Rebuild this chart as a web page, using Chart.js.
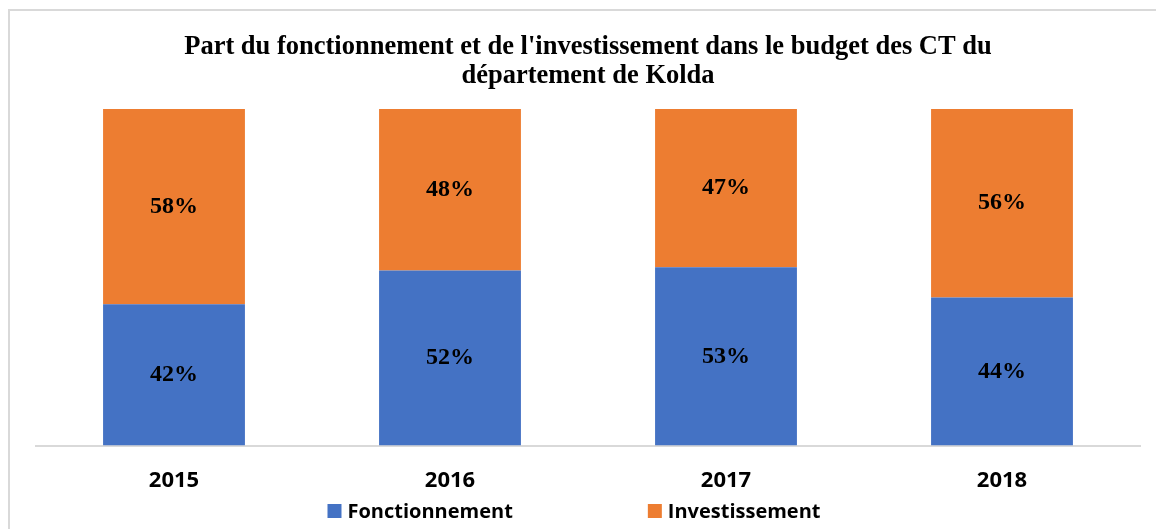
<!DOCTYPE html>
<html>
<head>
<meta charset="utf-8">
<script src="https://cdn.jsdelivr.net/npm/chart.js@4"></script>
<style>
  html, body { margin: 0; padding: 0; background: #fff; overflow: hidden; }
  #wrap { position: relative; width: 1156px; height: 529px; }
  #frame { position: absolute; left: 8px; top: 9px; width: 1200px; height: 600px;
           border: 2px solid #d9d9d9; box-sizing: border-box; pointer-events: none; }
  canvas { display: block; }
</style>
</head>
<body>
<div id="wrap">
  <canvas id="chart" width="1156" height="529"></canvas>
  <div id="frame"></div>
</div>
<script>
const years = ["2015", "2016", "2017", "2018"];
const fonctionnement = [42, 52, 53, 44];
const investissement = [58, 48, 47, 56];
const titleLines = [
  "Part du fonctionnement et de l'investissement dans le budget des CT du",
  "département de Kolda"
];

const BLUE = "#4472C4";
const ORANGE = "#ED7D31";

// labels au centre de chaque segment
const segmentLabels = {
  id: "segmentLabels",
  afterDatasetsDraw(chart) {
    const ctx = chart.ctx;
    ctx.save();
    ctx.font = "bold 24px 'Liberation Serif', 'Times New Roman', serif";
    ctx.fillStyle = "#000";
    ctx.textAlign = "center";
    ctx.textBaseline = "middle";
    chart.data.datasets.forEach((ds, i) => {
      const meta = chart.getDatasetMeta(i);
      meta.data.forEach((bar, j) => {
        const y = (bar.y + bar.base) / 2;
        ctx.fillText(ds.data[j] + "%", bar.x, y);
      });
    });
    ctx.restore();
  }
};

// légende en bas, items bien espacés comme dans Excel
const bottomLegend = {
  id: "bottomLegend",
  afterDraw(chart) {
    const ctx = chart.ctx;
    const box = 14, gapText = 6, gapItem = 135;
    ctx.save();
    ctx.font = "bold 20px 'Open Sans', sans-serif";
    ctx.textBaseline = "middle";
    ctx.textAlign = "left";
    const items = chart.data.datasets.map(ds => ({
      text: ds.label, color: ds.backgroundColor, w: ctx.measureText(ds.label).width
    }));
    let total = 0;
    items.forEach((it, i) => { total += box + gapText + it.w + (i ? gapItem : 0); });
    let x = chart.width / 2 - 4 - total / 2;
    const y = 511;
    items.forEach(it => {
      ctx.fillStyle = it.color;
      ctx.fillRect(x, y - box / 2, box, box);
      ctx.fillStyle = "#000";
      ctx.fillText(it.text, x + box + gapText, y + 1);
      x += box + gapText + it.w + gapItem;
    });
    ctx.restore();
  }
};

new Chart(document.getElementById("chart"), {
  type: "bar",
  data: {
    labels: years,
    datasets: [
      { label: "Fonctionnement", data: fonctionnement, backgroundColor: BLUE },
      { label: "Investissement", data: investissement, backgroundColor: ORANGE }
    ]
  },
  options: {
    responsive: false,
    animation: false,
    events: [],
    layout: { padding: { left: 36, right: 16, top: 0, bottom: 13 } },
    datasets: { bar: { categoryPercentage: 1, barPercentage: 0.514 } },
    plugins: {
      legend: { display: false },
      tooltip: { enabled: false },
      title: {
        display: true,
        text: titleLines,
        color: "#000",
        font: { family: "'Liberation Serif', 'Times New Roman', serif", size: 26.5, weight: "bold", lineHeight: 1.095 },
        padding: { top: 33, bottom: 18 }
      }
    },
    scales: {
      x: {
        stacked: true,
        grid: { display: false, drawTicks: false },
        border: { display: true, color: "#d9d9d9", width: 2 },
        ticks: {
          color: "#000",
          padding: 22,
          font: { family: "'Open Sans', sans-serif", size: 22, weight: "bold" }
        }
      },
      y: {
        stacked: true,
        display: false,
        min: 0,
        max: 100
      }
    }
  },
  plugins: [segmentLabels, bottomLegend]
});
</script>
</body>
</html>
